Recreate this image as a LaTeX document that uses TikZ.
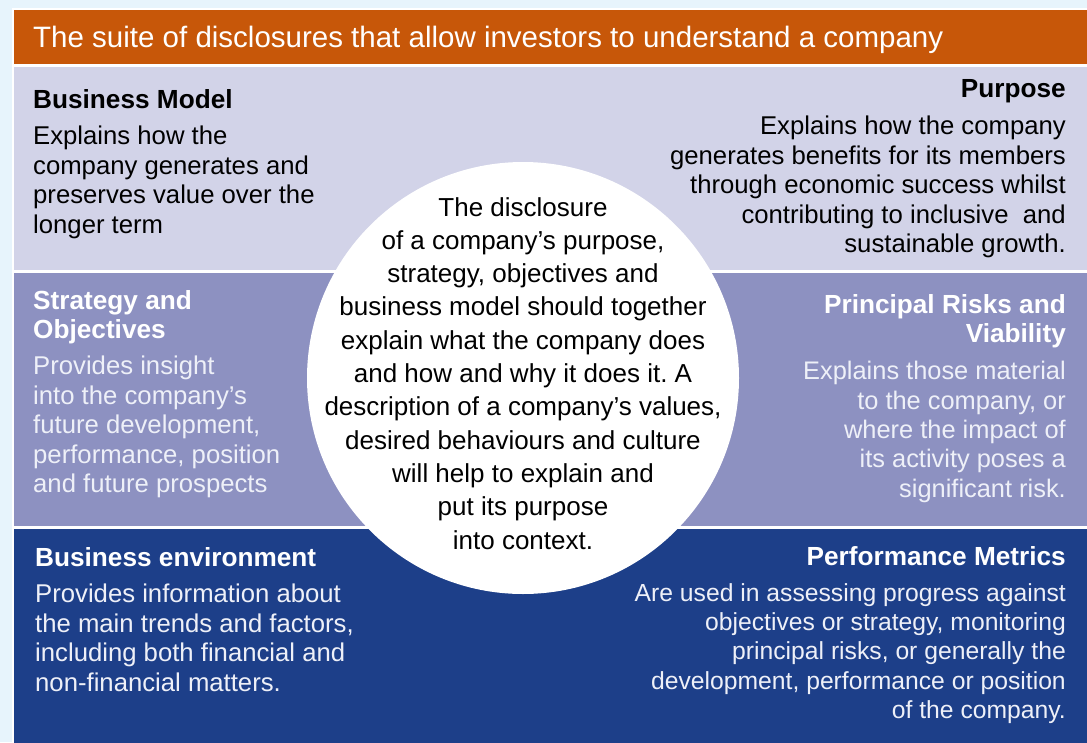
\documentclass[tikz,border=0pt]{standalone}
\usepackage{fontspec}
\setmainfont{Liberation Sans}
\frenchspacing
\definecolor{bgc}{HTML}{E7F4FC}
\definecolor{orangec}{HTML}{C75709}
\definecolor{lavc}{HTML}{D2D3E8}
\definecolor{purc}{HTML}{8D91C1}
\definecolor{bluec}{HTML}{1D3F89}
\definecolor{lighttxt}{HTML}{EEF0F8}
\begin{document}
\begin{tikzpicture}[x=1pt,y=-1pt,
  panel/.style={draw=white,line width=1.5pt},
  head/.style={inner sep=0pt,font=\fontsize{26.2}{29}\selectfont\bfseries},
  body/.style={inner sep=0pt,font=\fontsize{25.7}{29.4}\selectfont},
  circtxt/.style={inner sep=0pt,align=center,font=\fontsize{26}{33.3}\selectfont}]
\useasboundingbox (0,0) rectangle (1087,742);
\fill[bgc] (0,0) rectangle (1087,742);
% bands
\fill[panel,fill=orangec] (13,9) rectangle (1090,65);
\fill[panel,fill=lavc] (13,66) rectangle (1090,271);
\fill[panel,fill=purc] (13,272) rectangle (1090,527);
\fill[panel,fill=bluec] (13,528) rectangle (1090,745);
% title
\node[anchor=base west,inner sep=0pt,text=white,font=\fontsize{29.5}{32}\selectfont] (title) at (33,47) {The suite of disclosures that allow investors to understand a company};
% circle
\node[circle,fill=white,minimum size=432pt,inner sep=0pt] (circ) at (523,378) {};
\node[circtxt,anchor=north] (ctext) at (523,197) {The disclosure\\of a company’s purpose,\\strategy, objectives and\\business model should together\\explain what the company does\\and how and why it does it. A\\description of a company’s values,\\desired behaviours and culture\\will help to explain and\\put its purpose\\into context.};
% Business model
\node[head,anchor=base west] (bmh) at (33,108) {Business Model};
\node[body,anchor=north west,align=left] (bmb) at (33,126) {Explains how the\\company generates and\\preserves value over the\\longer term};
% Purpose
\node[head,anchor=base east] (puh) at (1066,97) {Purpose};
\node[body,anchor=north east,align=right] (pub) at (1066,116) {Explains how the company\\generates benefits for its members\\through economic success whilst\\contributing to inclusive\ \ and\\sustainable growth.};
% Strategy
\node[head,anchor=north west,align=left,text=white] (sth) at (33,290) {Strategy and\\Objectives};
\node[body,anchor=north west,align=left,text=lighttxt] (stb) at (33,356) {Provides insight\\into the company’s\\future development,\\performance, position\\and future prospects};
% Principal risks
\node[head,anchor=north east,align=right,text=white] (prh) at (1066,294) {Principal Risks and\\Viability};
\node[body,anchor=north east,align=right,text=lighttxt,font=\fontsize{25.4}{29.4}\selectfont] (prb) at (1066,361) {Explains those material\\to the company, or\\where the impact of\\its activity poses a\\significant risk.};
% Business environment
\node[head,anchor=base west,text=white] (beh) at (35,566) {Business environment};
\node[body,anchor=north west,align=left,text=lighttxt] (beb) at (35,584) {Provides information about\\the main trends and factors,\\including both financial and\\non-financial matters.};
% Performance metrics
\node[head,anchor=base east,text=white] (pmh) at (1066,565) {Performance Metrics};
\node[body,anchor=north east,align=right,text=lighttxt,font=\fontsize{24.7}{29.4}\selectfont] (pmb) at (1066,583) {Are used in assessing progress against\\objectives or strategy, monitoring\\principal risks, or generally the\\development, performance or position\\of the company.};
\end{tikzpicture}
\end{document}
